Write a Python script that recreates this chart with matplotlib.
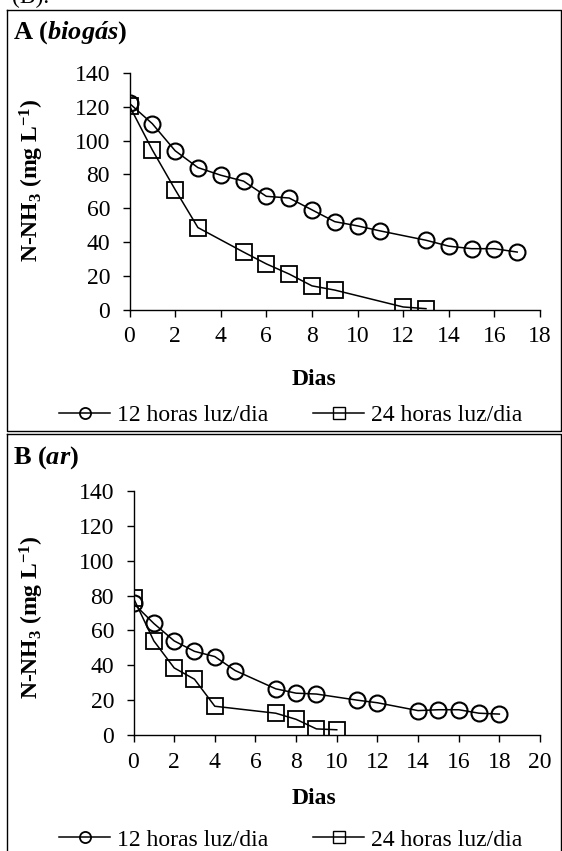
import matplotlib
matplotlib.use("Agg")
import matplotlib.pyplot as plt
from matplotlib.lines import Line2D

plt.rcParams['font.family'] = ['Liberation Serif', 'DejaVu Serif']
plt.rcParams['mathtext.fontset'] = 'custom'
plt.rcParams['mathtext.rm'] = 'Liberation Serif:bold'
plt.rcParams['mathtext.bf'] = 'Liberation Serif:bold'
plt.rcParams['mathtext.it'] = 'Liberation Serif:bold:italic'

# Painel A (biogás)
a_dias_12 = [0, 1, 2, 3, 4, 5, 6, 7, 8, 9, 10, 11, 13, 14, 15, 16, 17]
a_nh3_12 = [122, 110, 94, 84, 79.5, 76, 67, 66, 59, 52, 49.5, 46.5, 41, 37.5, 36, 36, 34]
a_dias_24 = [0, 1, 2, 3, 5, 6, 7, 8, 9, 12, 13]
a_nh3_24 = [120.5, 94.5, 71, 48.5, 34, 27, 21, 14, 11.5, 1.5, 0.5]

# Painel B (ar)
b_dias_12 = [0, 1, 2, 3, 4, 5, 7, 8, 9, 11, 12, 14, 15, 16, 17, 18]
b_nh3_12 = [75.5, 64, 54, 48, 45, 37, 26.5, 24, 23.5, 20, 18.5, 14, 14.5, 14.5, 12.5, 12]
b_dias_24 = [0, 1, 2, 3, 4, 7, 8, 9, 10]
b_nh3_24 = [78.5, 54, 38.5, 32, 16.5, 12.5, 9, 3.5, 3]

legendas = ['12 horas luz/dia', '24 horas luz/dia']
W, H = 562, 851
FS = 17

fig = plt.figure(figsize=(W / 100, H / 100), dpi=100)


def px(x, y):
    # pixel (a partir do canto superior esquerdo) -> coordenadas da figura
    return x / W, 1 - y / H


def painel(rect, d12, v12, d24, v24, xmax, titulo, ytit, ylab, ydias, yleg):
    ax = fig.add_axes(rect)
    ax.plot(d12, v12, color='black', lw=1.1, marker='o', ms=11.5,
            mfc='none', mec='black', mew=1.5, zorder=3)
    ax.plot(d24, v24, color='black', lw=1.1, marker='s', ms=11,
            mfc='none', mec='black', mew=1.3, zorder=3)
    ax.set_xlim(0, xmax)
    ax.set_ylim(0, 140)
    ax.set_xticks(range(0, xmax + 1, 2))
    ax.set_yticks(range(0, 141, 20))
    for s in ['top', 'right']:
        ax.spines[s].set_visible(False)
    for s in ['left', 'bottom']:
        ax.spines[s].set_linewidth(1.0)
    ax.tick_params(direction='out', length=5, width=1.0, labelsize=FS)
    ax.tick_params(axis='x', pad=7)
    ax.tick_params(axis='y', pad=9)
    ax.patch.set_alpha(0)

    x, y = px(13, ytit)
    fig.text(x, y, titulo, fontsize=19, fontweight='bold', va='center', ha='left')
    x, y = px(32, ylab)
    fig.text(x, y, 'N-NH$_3$ (mg L$^{-1}$)', fontsize=FS, fontweight='bold',
             rotation=90, va='center', ha='center')
    x, y = px(314, ydias)
    fig.text(x, y, 'Dias', fontsize=FS, fontweight='bold', va='center', ha='center')

    handles = [
        Line2D([], [], color='black', lw=1.1, marker='o', ms=8, mfc='none', mew=1.3),
        Line2D([], [], color='black', lw=1.1, marker='s', ms=8, mfc='none', mew=1.0),
    ]
    x, y = px(291, yleg)
    fig.legend(handles, legendas, loc='center', bbox_to_anchor=(x, y), ncol=2,
               frameon=False, fontsize=FS, handlelength=2.15, handletextpad=0.3,
               columnspacing=1.9, borderaxespad=0, borderpad=0)
    return ax


def caixa(x0, y0, x1, y1, lw=1.0):
    xa, ya = px(x0, y0)
    xb, yb = px(x1, y1)
    fig.add_artist(Line2D([xa, xb, xb, xa, xa], [ya, ya, yb, yb, ya],
                          color='black', lw=lw, transform=fig.transFigure))


painel([129.5 / W, 1 - 309.5 / H, 410.5 / W, 236.5 / H],
       a_dias_12, a_nh3_12, a_dias_24, a_nh3_24, 18,
       'A ($\\mathit{biogás}$)', 33, 180, 380, 415)
painel([133.5 / W, 1 - 735 / H, 406.5 / W, 244 / H],
       b_dias_12, b_nh3_12, b_dias_24, b_nh3_24, 20,
       'B ($\\mathit{ar}$)', 458, 617, 798, 840)

caixa(7, 10, 560.5, 431)
caixa(7, 434, 560.5, 860)

x, y = px(12, 3)
fig.text(x, y, '(B).', fontsize=FS, va='baseline', ha='left')

fig.savefig('out.png', dpi=100)
